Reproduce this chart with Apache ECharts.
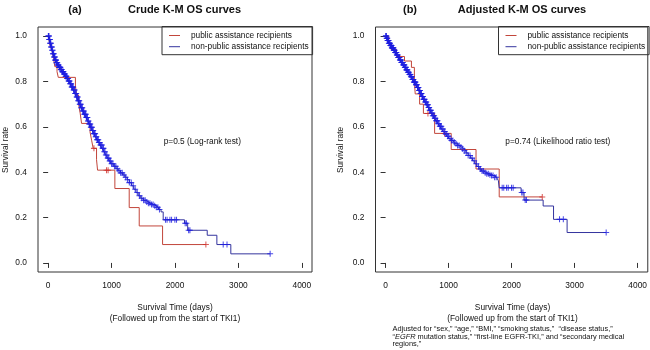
<!DOCTYPE html>
<html>
<head>
<meta charset="utf-8">
<script src="https://cdn.jsdelivr.net/npm/echarts@6/dist/echarts.min.js"></script>
<style>html,body{margin:0;padding:0;background:#fff}#c{width:650px;height:350px}</style>
</head>
<body>
<div id="c"></div>
<script>
// ---------- data ----------
const groupNames = ['public assistance recipients', 'non-public assistance recipients'];
const xTicks = [0, 1000, 2000, 3000, 4000];
const yTicks = [0, 0.2, 0.4, 0.6, 0.8, 1.0];

// (a) crude K-M: public assistance recipients (step start times and survival)
const redA_t = [0, 30, 60, 85, 106, 140, 160, 430, 448, 480, 505, 527, 660, 685, 710, 763, 779, 1052, 1278, 1436, 1804, 2487];
const redA_s = [1, 0.958, 0.938, 0.90, 0.865, 0.843, 0.818, 0.78, 0.74, 0.70, 0.66, 0.615, 0.578, 0.541, 0.505, 0.455, 0.409, 0.328, 0.244, 0.163, 0.081, 0.081];
const redA_censor = [722, 920, 945, 2487];

// (a) crude K-M: non-public assistance recipients
const blueA_t = [0,15,30,45,60,75,90,110,130,150,170,195,220,245,270,295,320,345,370,395,420,445,470,495,520,545,570,595,620,645,670,695,720,745,770,795,820,850,880,910,940,970,1000,1035,1070,1105,1140,1175,1210,1245,1280,1315,1350,1385,1420,1460,1500,1540,1580,1620,1660,1700,1740,1780,1814,2150,2200,2508,2660,2880,3500];
const blueA_s = [1.0,0.985,0.968,0.952,0.938,0.922,0.908,0.894,0.882,0.872,0.862,0.853,0.843,0.833,0.823,0.813,0.802,0.790,0.776,0.762,0.747,0.731,0.715,0.699,0.684,0.670,0.655,0.641,0.626,0.612,0.598,0.584,0.570,0.556,0.543,0.531,0.520,0.505,0.490,0.476,0.462,0.449,0.437,0.426,0.415,0.406,0.397,0.388,0.378,0.367,0.354,0.340,0.325,0.310,0.296,0.285,0.276,0.269,0.263,0.258,0.252,0.245,0.236,0.225,0.190,0.175,0.144,0.122,0.081,0.040,0.040];

// (b) adjusted K-M: public assistance recipients
const redB_t = [0, 50, 90, 173, 300, 410, 457, 470, 540, 600, 778, 1041, 1435, 1803, 2486];
const redB_s = [1, 0.965, 0.94, 0.91, 0.89, 0.862, 0.80, 0.745, 0.70, 0.659, 0.571, 0.50, 0.414, 0.291, 0.291];
const redB_censor = [672, 935, 2486];

// (b) adjusted K-M: non-public assistance recipients
const blueB_t = [0,15,30,50,75,100,125,150,175,200,225,250,275,300,325,350,375,400,425,450,475,500,525,550,575,600,625,650,675,700,725,750,775,800,830,860,890,920,950,980,1010,1040,1070,1100,1135,1170,1205,1240,1275,1310,1345,1380,1415,1450,1485,1520,1560,1600,1640,1680,1720,1760,1790,1803,2150,2197,2500,2665,2880,3500];
const blueB_s = [1.0,0.99,0.98,0.968,0.958,0.948,0.938,0.928,0.917,0.906,0.895,0.884,0.873,0.862,0.851,0.841,0.831,0.821,0.809,0.797,0.785,0.773,0.760,0.747,0.734,0.721,0.709,0.697,0.685,0.673,0.661,0.649,0.638,0.627,0.614,0.602,0.590,0.579,0.568,0.558,0.548,0.540,0.532,0.525,0.518,0.511,0.503,0.495,0.485,0.474,0.462,0.450,0.437,0.425,0.414,0.405,0.398,0.393,0.389,0.385,0.378,0.370,0.362,0.331,0.310,0.277,0.251,0.192,0.134,0.134];

// censoring times of non-public assistance recipients (shared by both panels)
const blueCensor = [3,8,12,17,22,27,32,37,42,47,52,58,64,70,76,82,88,94,100,106,112,118,124,130,137,144,151,158,165,172,179,186,193,200,207,214,221,228,235,242,250,258,266,274,282,290,298,306,314,322,330,338,346,354,362,370,378,386,394,402,410,418,426,434,442,450,458,466,474,482,490,498,506,514,522,530,538,546,554,562,570,578,586,594,602,610,619,628,637,646,655,664,673,682,691,700,710,720,730,740,750,760,770,780,790,800,812,824,836,848,860,872,884,896,910,925,940,955,970,985,1000,1020,1045,1068,1092,1118,1142,1168,1195,1222,1250,1280,1310,1340,1372,1405,1440,1475,1505,1530,1555,1580,1605,1630,1655,1680,1705,1730,1755,1850,1875,1920,1946,1998,2024,2160,2180,2215,2235,2760,2820,3500];

// ---------- helpers ----------
const FONT = '"Liberation Sans", Arial, Helvetica, sans-serif';
const RED = '#c2463b', RED_MARK = '#d0302a';
const BLUE = '#34349e', BLUE_MARK = '#1c1ce0';
const groupColors = [RED, BLUE];
const PLUS = 'path://M-0.17,-1L0.17,-1L0.17,-0.17L1,-0.17L1,0.17L0.17,0.17L0.17,1L-0.17,1L-0.17,0.17L-1,0.17L-1,-0.17L-0.17,-0.17Z';
const LEGEND_LINE = 'path://M0,0L22,0L22,2L0,2Z';

function stepPairs(ts, ss) { return ts.map((t, i) => [t, ss[i]]); }
function survAt(ts, ss, t) { let v = ss[0]; for (let i = 0; i < ts.length; i++) { if (ts[i] <= t) v = ss[i]; } return v; }
function censorPairs(ts, ss, cs) { return cs.map(t => [t, survAt(ts, ss, t)]); }

function lineSeries(name, gi, ts, ss, color) {
  return { name, type: 'line', step: 'end', xAxisIndex: gi, yAxisIndex: gi, data: stepPairs(ts, ss),
    symbol: 'none', color, lineStyle: { color, width: 1 }, itemStyle: { color }, silent: true, animation: false, z: 2 };
}
function markSeries(name, gi, data, color) {
  return { name, type: 'scatter', xAxisIndex: gi, yAxisIndex: gi, data, symbol: PLUS, symbolSize: 6,
    itemStyle: { color }, silent: true, animation: false, z: 3 };
}

const gridTop = 27, gridH = 245, gridW = 274;
const grids = [{ left: 38, top: gridTop, width: gridW, height: gridH }, { left: 375.5, top: gridTop, width: gridW, height: gridH }];

function xAxisFor(gi) {
  return { gridIndex: gi, type: 'value', min: -160, max: 4160,
    axisLine: { show: false }, splitLine: { show: false },
    axisTick: { show: true, customValues: xTicks, length: 5, lineStyle: { color: '#333', width: 1 } },
    axisLabel: { customValues: xTicks, color: '#111', fontSize: 8.4, fontFamily: FONT, margin: 10,
      formatter: v => String(Math.round(v)) } };
}
function yAxisFor(gi) {
  return { gridIndex: gi, type: 'value', min: -0.04, max: 1.04,
    axisLine: { show: false }, splitLine: { show: false },
    axisTick: { show: true, customValues: yTicks, length: 5, lineStyle: { color: '#333', width: 1 } },
    axisLabel: { customValues: yTicks, color: '#111', fontSize: 8.4, fontFamily: FONT, margin: 11,
      formatter: v => v.toFixed(1) } };
}
function legendFor(left) {
  return { left, top: 26.5, orient: 'vertical',
    data: groupNames.map((n, i) => ({ name: n, icon: LEGEND_LINE, itemStyle: { color: groupColors[i], borderWidth: 0 } })),
    borderColor: '#333', borderWidth: 1, borderRadius: 0, padding: [5, 4, 4, 7],
    itemWidth: 11, itemHeight: 10, itemGap: 3.2, selectedMode: false,
    textStyle: { fontSize: 8.3, fontFamily: FONT, color: '#111', padding: [0, 0, 0, 6] } };
}
function txt(text, x, y, size, opts) {
  return Object.assign({ type: 'text', x, y, silent: true,
    style: Object.assign({ text, fontSize: size, fontFamily: FONT, fill: '#111', align: 'center', verticalAlign: 'middle' }, (opts && opts.style) || {}) },
    (opts && opts.el) || {});
}

const option = {
  animation: false,
  backgroundColor: '#fff',
  grid: grids.map(g => Object.assign({ show: true, borderColor: '#333', borderWidth: 1, backgroundColor: 'transparent' }, g)),
  xAxis: [xAxisFor(0), xAxisFor(1)],
  yAxis: [yAxisFor(0), yAxisFor(1)],
  legend: [legendFor(162), legendFor(498.5)],
  series: [
    lineSeries(groupNames[0], 0, redA_t, redA_s, RED),
    markSeries('censor-a-public', 0, censorPairs(redA_t, redA_s, redA_censor), RED_MARK),
    lineSeries(groupNames[1], 0, blueA_t, blueA_s, BLUE),
    markSeries('censor-a-nonpublic', 0, censorPairs(blueA_t, blueA_s, blueCensor), BLUE_MARK),
    lineSeries(groupNames[0], 1, redB_t, redB_s, RED),
    markSeries('censor-b-public', 1, censorPairs(redB_t, redB_s, redB_censor), RED_MARK),
    lineSeries(groupNames[1], 1, blueB_t, blueB_s, BLUE),
    markSeries('censor-b-nonpublic', 1, censorPairs(blueB_t, blueB_s, blueCensor), BLUE_MARK)
  ],
  graphic: [
    txt('(a)', 75, 10, 11, { style: { fontWeight: 'bold' } }),
    txt('Crude K-M OS curves', 184.5, 10, 11, { style: { fontWeight: 'bold' } }),
    txt('(b)', 410, 10, 11, { style: { fontWeight: 'bold' } }),
    txt('Adjusted K-M OS curves', 522, 10, 11, { style: { fontWeight: 'bold' } }),
    txt('Survival rate', 0, 0, 8.3, { el: { x: 6, y: 150, rotation: Math.PI / 2 } }),
    txt('Survival rate', 0, 0, 8.3, { el: { x: 341, y: 150, rotation: Math.PI / 2 } }),
    txt('Survival Time (days)', 175, 308, 8.3),
    txt('(Followed up from the start of TKI1)', 175, 319, 8.3),
    txt('Survival Time (days)', 512.5, 308, 8.3),
    txt('(Followed up from the start of TKI1)', 512.5, 319, 8.3),
    txt('p=0.5 (Log-rank test)', 202.3, 141.7, 8.3),
    txt('p=0.74 (Likelihood ratio test)', 557.8, 141.7, 8.3),
    { type: 'text', x: 392.5, y: 325, silent: true,
      style: { text: 'Adjusted for \u201csex,\u201d \u201cage,\u201d \u201cBMI,\u201d \u201csmoking status,\u201d  \u201cdisease status,\u201d\n\u201c{i|EGFR} mutation status,\u201d \u201cfirst-line EGFR-TKI,\u201d and \u201csecondary medical\nregions,\u201d',
        fontSize: 7.4, lineHeight: 7.7, fontFamily: FONT, fill: '#111', align: 'left', verticalAlign: 'top',
        rich: { i: { fontStyle: 'italic', fontSize: 7.4, fontFamily: FONT, fill: '#111' } } } }
  ]
};

const chart = echarts.init(document.getElementById('c'), null, { renderer: 'canvas' });
chart.setOption(option);
</script>
</body>
</html>
